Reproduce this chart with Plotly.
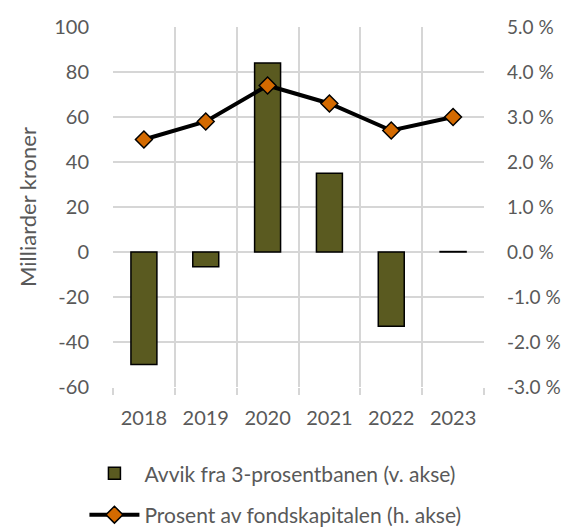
import plotly.graph_objects as go

years = ["2018", "2019", "2020", "2021", "2022", "2023"]
avvik = [-50, -6.5, 84, 35, -33, 0.2]          # mrd. kroner, venstre akse
prosent = [2.5, 2.9, 3.7, 3.3, 2.7, 3.0]       # prosent av fondskapitalen, hoyre akse

left_ticks = [-60, -40, -20, 0, 20, 40, 60, 80, 100]
right_ticks = [-3, -2, -1, 0, 1, 2, 3, 4, 5]

xpos = list(range(len(years)))
grid_c = "#d6d6d6"
txt_c = "#595959"
font_fam = "Lato, 'Open Sans', sans-serif"

fig = go.Figure()

fig.add_trace(go.Bar(
    x=xpos, y=avvik,
    width=0.42,
    marker=dict(color="#5a5a20", line=dict(color="black", width=1.5)),
    name="Avvik fra 3-prosentbanen (v. akse)",
    legendgroup="a",
))

fig.add_trace(go.Scatter(
    x=xpos, y=prosent,
    yaxis="y2",
    mode="lines+markers",
    line=dict(color="black", width=4),
    marker=dict(symbol="diamond", size=13, color="#d46a00",
                line=dict(color="black", width=1.5)),
    name="Prosent av fondskapitalen (h. akse)",
    legendgroup="b",
))

fig.update_layout(
    width=567, height=527,
    margin=dict(l=113, r=83, t=27, b=140, autoexpand=False),
    plot_bgcolor="rgba(0,0,0,0)", paper_bgcolor="white",
    font=dict(family=font_fam, size=20, color=txt_c),
    showlegend=True,
    legend=dict(x=-0.077, xanchor="left", y=0.14, yanchor="top",
                yref="container",
                orientation="v", tracegroupgap=11, itemwidth=50,
                font=dict(size=21, color=txt_c)),
    xaxis=dict(
        range=[-0.5, 5.5],
        tickvals=xpos, ticktext=years,
        showgrid=False, zeroline=False, showline=False,
        ticks="", ticklabelstandoff=17,
        minor=dict(tickvals=[i - 0.5 for i in range(7)], showgrid=True,
                   gridcolor=grid_c, gridwidth=2, ticks="outside",
                   ticklen=7, tickcolor=grid_c, tickwidth=2),
    ),
    yaxis=dict(
        range=[-60, 100],
        tickvals=left_ticks, ticktext=[str(v) for v in left_ticks],
        showgrid=True, gridcolor=grid_c, gridwidth=2,
        zeroline=False, showline=False,
        title=dict(text="Milliarder kroner", font=dict(size=22, color=txt_c),
                   standoff=11),
        ticklabelstandoff=23,
        minor=dict(tickvals=left_ticks, showgrid=True,
                   gridcolor=grid_c, gridwidth=2),
    ),
    yaxis2=dict(
        range=[-3, 5],
        tickvals=right_ticks, ticktext=[f"{v:.1f} %" for v in right_ticks],
        overlaying="y", side="right",
        showgrid=False,
        zeroline=False, showline=False,
        ticklabelstandoff=22,
        tickfont=dict(size=19),
    ),
)

fig.write_html("out.html", config={"displayModeBar": False},
               post_script="document.body.style.margin='0';")
